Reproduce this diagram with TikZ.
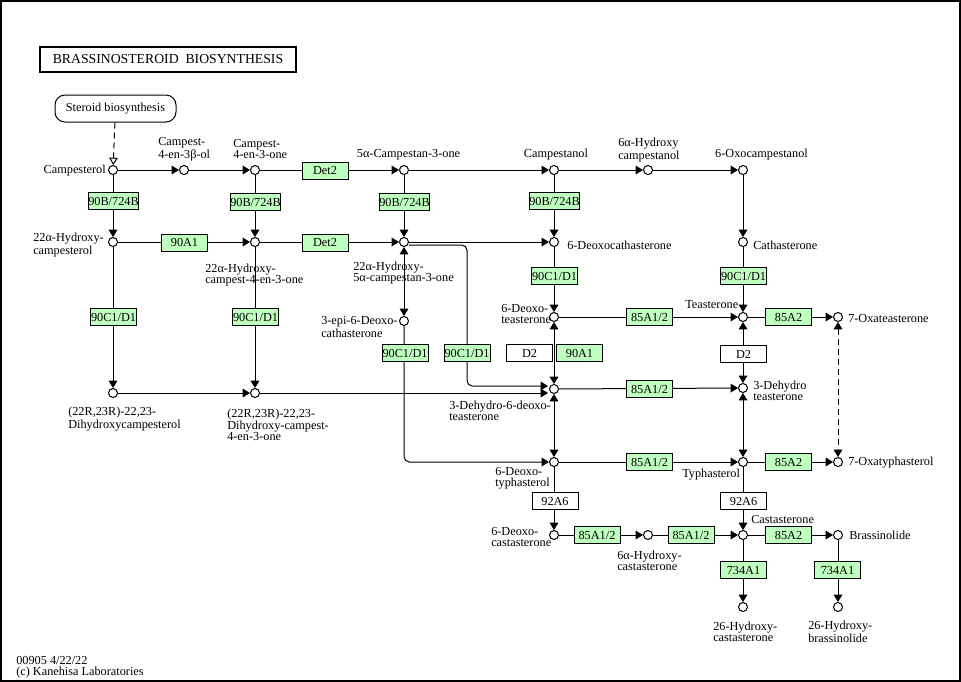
\documentclass[tikz,border=0pt]{standalone}
\usepackage{fontspec}
\setmainfont{Liberation Serif}
\usetikzlibrary{arrows.meta,calc,backgrounds}
\definecolor{kgreen}{HTML}{BFFFBF}
\newcommand{\kfont}{\fontsize{9.2}{8.3}\selectfont}
\begin{document}
\begin{tikzpicture}[x=0.75pt,y=-0.75pt,
  met/.style={circle,draw,fill=white,line width=0.75pt,inner sep=0pt,minimum size=6.75pt},
  enz/.style={draw,fill=kgreen,line width=0.75pt,inner sep=0pt,minimum width=34.5pt,minimum height=12.75pt,font=\kfont},
  enzw/.style={enz,fill=white},
  lbl/.style={inner sep=0pt,align=left,font=\kfont},
  conn/.style={line width=0.75pt},
  arr/.style={conn,-{Triangle[length=5.5pt,width=6.5pt]}},
  arrtwo/.style={conn,{Triangle[length=5.5pt,width=6.5pt]}-{Triangle[length=5.5pt,width=6.5pt]}},
  openarr/.style={conn,-{Triangle[open,length=5.5pt,width=6.5pt,fill=white]}},
  kdash/.style={dash pattern=on 4.5pt off 3pt}
]
\useasboundingbox (0,0) rectangle (961,682);
\draw[line width=1.2pt] (0.8,0.8) rectangle (960.2,681.2);

% title and map link
\node[draw,line width=1.6pt,minimum width=192pt,minimum height=18.75pt,inner sep=0pt,font=\fontsize{10.3}{12}\selectfont] (title) at (168,59.5) {BRASSINOSTEROID\ \ BIOSYNTHESIS};
\node[draw,line width=0.75pt,rounded corners=7.5pt,minimum width=90.75pt,minimum height=20.25pt,inner sep=0pt,font=\kfont] (steroid) at (115.5,108.5) {Steroid biosynthesis};

% metabolites
\node[met] (cpl) at (113,170) {};
\node[met] (c4ol) at (184,170) {};
\node[met] (c4one) at (255,170) {};
\node[met] (c5one) at (404,170) {};
\node[met] (cpn) at (554,170) {};
\node[met] (hcpn) at (648,170) {};
\node[met] (ocpn) at (743,170) {};
\node[met] (hcpl) at (113,242) {};
\node[met] (hc4one) at (255,242) {};
\node[met] (hc5one) at (404,242) {};
\node[met] (docs) at (554,242) {};
\node[met] (cath) at (743,242) {};
\node[met] (epi) at (404,321) {};
\node[met] (dote) at (554,317) {};
\node[met] (tea) at (743,317) {};
\node[met] (otea) at (838,317) {};
\node[met] (dhcpl) at (113,393) {};
\node[met] (dhc4one) at (255,393) {};
\node[met] (ddote) at (554,389) {};
\node[met] (dtea) at (743,388) {};
\node[met] (doty) at (554,462) {};
\node[met] (ty) at (743,462) {};
\node[met] (oty) at (838,462) {};
\node[met] (docas) at (554,535) {};
\node[met] (hcas) at (648,535) {};
\node[met] (cast) at (743,535) {};
\node[met] (bl) at (838,535) {};
\node[met] (hcs) at (743,607) {};
\node[met] (hbl) at (838,607) {};

% enzymes
\node[enz] (e1) at (113.5,201) {90B/724B};
\node[enz] (e2) at (255.5,202) {90B/724B};
\node[enz] (e3) at (404.5,202) {90B/724B};
\node[enz] (e4) at (554.5,201) {90B/724B};
\node[enz] (det1) at (325,170.5) {Det2};
\node[enz] (det2) at (325,242.5) {Det2};
\node[enz] (e90a) at (184.5,242.5) {90A1};
\node[enz] (c1) at (113.5,317) {90C1/D1};
\node[enz] (c2) at (255.5,317) {90C1/D1};
\node[enz] (c3) at (554.5,276) {90C1/D1};
\node[enz] (c4) at (743.5,276) {90C1/D1};
\node[enz] (c5) at (405,353) {90C1/D1};
\node[enz] (c6) at (467,353) {90C1/D1};
\node[enzw] (d2a) at (529.5,353) {D2};
\node[enz] (a90) at (579.5,353) {90A1};
\node[enz] (f1) at (649.5,317) {85A1/2};
\node[enz] (f2) at (649.5,389) {85A1/2};
\node[enz] (f3) at (649.5,462) {85A1/2};
\node[enz] (f4) at (597,535) {85A1/2};
\node[enz] (f5) at (691,535) {85A1/2};
\node[enz] (g1) at (788.5,317) {85A2};
\node[enz] (g2) at (788.5,462) {85A2};
\node[enz] (g3) at (788.5,535) {85A2};
\node[enzw] (d2b) at (743.5,354) {D2};
\node[enzw] (n1) at (555,501) {92A6};
\node[enzw] (n2) at (743.5,501) {92A6};
\node[enz] (t1) at (743.5,570) {734A1};
\node[enz] (t2) at (837.5,570) {734A1};

% labels
\node[lbl,anchor=east] (lcpl) at (106,171) {Campesterol};
\node[lbl,anchor=west] (lc4ol) at (158,149) {Campest-\\4-en-3β-ol};
\node[lbl,anchor=west] (lc4one) at (233,149) {Campest-\\4-en-3-one};
\node[lbl] (lc5one) at (408.5,155) {5α-Campestan-3-one};
\node[lbl] (lcpn) at (556,155) {Campestanol};
\node[lbl,anchor=west] (lhcpn) at (618,150) {6α-Hydroxy\\campestanol};
\node[lbl] (locpn) at (761.5,155) {6-Oxocampestanol};
\node[lbl,anchor=west] (lhcpl) at (33,245) {22α-Hydroxy-\\campesterol};
\node[lbl,anchor=west] (lhc4one) at (205,275) {22α-Hydroxy-\\campest-4-en-3-one};
\node[lbl,anchor=west] (lhc5one) at (353,273) {22α-Hydroxy-\\5α-campestan-3-one};
\node[lbl,anchor=west] (ldocs) at (567,245) {6-Deoxocathasterone};
\node[lbl,anchor=west] (lcath) at (753,245) {Cathasterone};
\node[lbl,anchor=west] (lepi) at (321,327) {3-epi-6-Deoxo-\\cathasterone};
\node[lbl,anchor=west] (ldote) at (501,314) {6-Deoxo-\\teasterone};
\node[lbl,anchor=west] (ltea) at (685,305) {Teasterone};
\node[lbl,anchor=west] (lotea) at (848,318) {7-Oxateasterone};
\node[lbl,anchor=west] (ldhcpl) at (68,419) {(22R,23R)-22,23-\\Dihydroxycampesterol};
\node[lbl,anchor=west] (ldhc4one) at (227,425) {(22R,23R)-22,23-\\Dihydroxy-campest-\\4-en-3-one};
\node[lbl,anchor=west] (lddote) at (449,411) {3-Dehydro-6-deoxo-\\teasterone};
\node[lbl,anchor=west] (ldtea) at (753,391) {3-Dehydro\\teasterone};
\node[lbl,anchor=west] (ldoty) at (495,478) {6-Deoxo-\\typhasterol};
\node[lbl,anchor=west] (lty) at (682,475) {Typhasterol};
\node[lbl,anchor=west] (loty) at (848,463) {7-Oxatyphasterol};
\node[lbl,anchor=west] (ldocas) at (491,537) {6-Deoxo-\\castasterone};
\node[lbl,anchor=west] (lhcas) at (617,561) {6α-Hydroxy-\\castasterone};
\node[lbl,anchor=west] (lcast) at (751,519) {Castasterone};
\node[lbl,anchor=west] (lbl) at (849,535) {Brassinolide};
\node[lbl,anchor=west] (lhcs) at (713,632) {26-Hydroxy-\\castasterone};
\node[lbl,anchor=west] (lhbl) at (808,632) {26-Hydroxy-\\brassinolide};

% footer
\node[lbl,anchor=west] (foot) at (16,667) {00905 4/22/22\\(c) Kanehisa Laboratories};

% connectors
\begin{scope}[on background layer]
\draw[openarr,kdash] (steroid) -- (cpl);
\draw[arr] (cpl) -- (c4ol);
\draw[arr] (c4ol) -- (c4one);
\draw[arr] (c4one) -- (c5one);
\draw[arr] (c5one) -- (cpn);
\draw[arr] (cpn) -- (hcpn);
\draw[arr] (hcpn) -- (ocpn);
\draw[arr] (ocpn) -- (cath);
\draw[arr] (cath) -- (tea);
\draw[arr] (cpl) -- (hcpl);
\draw[arr] (c4one) -- (hc4one);
\draw[arr] (c5one) -- (hc5one);
\draw[arr] (cpn) -- (docs);
\draw[arr] (hcpl) -- (hc4one);
\draw[arr] (hc4one) -- (hc5one);
\draw[arr] (hc5one) -- (docs);
\draw[arrtwo] (hc5one) -- (epi);
\draw[arr,rounded corners=4pt] ($(hc5one.east)+(0,3)$) -| (c6.center) |- ($(ddote.west)+(-1,-3)$);
\draw[arr,rounded corners=4pt] (epi) |- (doty);
\draw[arr] (docs) -- (dote);
\draw[arr] (dote) -- (tea);
\draw[arrtwo] (dote) -- (ddote);
\draw[arr] (ddote) -- (dtea);
\draw[arrtwo] (ddote) -- (doty);
\draw[arr] (doty) -- (ty);
\draw[arrtwo] (tea) -- (dtea);
\draw[arrtwo] (dtea) -- (ty);
\draw[arr] (tea) -- (otea);
\draw[arr] (ty) -- (oty);
\draw[arrtwo,kdash] (otea) -- (oty);
\draw[arr] (doty) -- (docas);
\draw[arr] (ty) -- (cast);
\draw[arr] (docas) -- (hcas);
\draw[arr] (hcas) -- (cast);
\draw[arr] (cast) -- (bl);
\draw[arr] (cast) -- (hcs);
\draw[arr] (bl) -- (hbl);
\draw[arr] (hcpl) -- (dhcpl);
\draw[arr] (hc4one) -- (dhc4one);
\draw[arr] (dhcpl) -- (dhc4one);
\draw[arr] (dhc4one) -- ($(dhc4one -| ddote.west)+(-1,0)$);
\end{scope}
\end{tikzpicture}
\end{document}
